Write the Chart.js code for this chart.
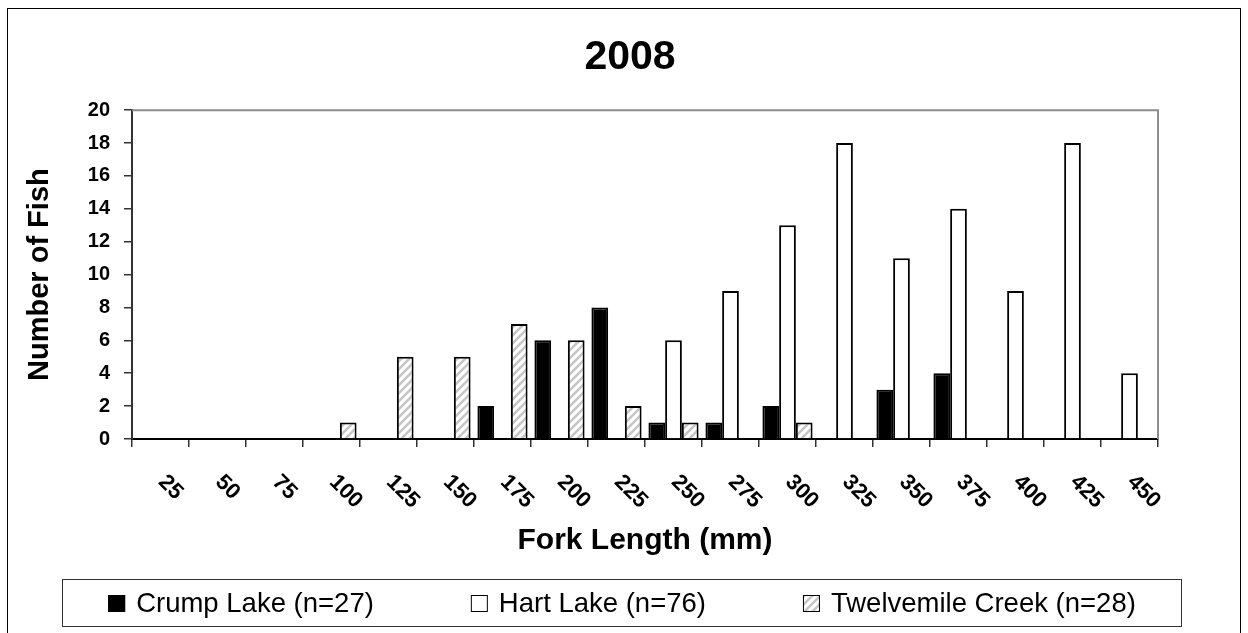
<!DOCTYPE html>
<html>
<head>
<meta charset="utf-8">
<script src="https://cdn.jsdelivr.net/npm/chart.js@4.4.1/dist/chart.umd.min.js"></script>
<style>
html,body{margin:0;padding:0;background:#fff;}
#wrap{width:1248px;height:633px;position:relative;}
</style>
</head>
<body>
<div id="wrap"><canvas id="c" width="1248" height="633"></canvas></div>
<script>
// ---- data ----
const categories = ['25','50','75','100','125','150','175','200','225','250','275','300','325','350','375','400','425','450'];
const crumpLake       = [0,0,0,0,0,0,2,6,8,1,1,2,0,3,4,0,0,0];
const hartLake        = [0,0,0,0,0,0,0,0,0,6,9,13,18,11,14,9,18,4];
const twelvemileCreek = [0,0,0,1,5,5,7,6,2,1,0,1,0,0,0,0,0,0];
const seriesLabels = ['Crump Lake (n=27)','Hart Lake (n=76)','Twelvemile Creek (n=28)'];
const yTicks = [0,2,4,6,8,10,12,14,16,18,20];
const chartTitle = '2008';
const xTitle = 'Fork Length (mm)';
const yTitle = 'Number of Fish';

const FONT = "'Liberation Sans', Arial, sans-serif";
Chart.defaults.font.family = FONT;
Chart.defaults.color = '#000';

const canvas = document.getElementById('c');
const mainCtx = canvas.getContext('2d');

function makeHatch(){
  const s = 8;
  const c = document.createElement('canvas');
  c.width = s; c.height = s;
  const g = c.getContext('2d');
  g.fillStyle = '#ffffff';
  g.fillRect(0,0,s,s);
  g.strokeStyle = '#c6c6c6';
  g.lineWidth = 2.6;
  g.beginPath();
  g.moveTo(-2, s+2); g.lineTo(s+2, -2);
  g.moveTo(-2, 2); g.lineTo(2, -2);
  g.moveTo(s-2, s+2); g.lineTo(s+2, s-2);
  g.stroke();
  return mainCtx.createPattern(c, 'repeat');
}
const hatch = makeHatch();

const framePlugin = {
  id: 'framePlugin',
  afterLayout(chart){
    const t = chart.titleBlock;
    if (t) { t.left = 0; t.right = chart.width + 12; }
  },
  beforeDraw(chart){
    const ctx = chart.ctx;
    ctx.save();
    ctx.fillStyle = '#fff';
    ctx.fillRect(0,0,chart.width,chart.height);
    ctx.strokeStyle = '#000';
    ctx.lineWidth = 1;
    ctx.strokeRect(7.5, 8.5, chart.width - 15, chart.height + 10);
    ctx.restore();
  },
  afterDraw(chart){
    const ctx = chart.ctx, a = chart.chartArea;
    ctx.save();
    ctx.strokeStyle = '#8c8c8c';
    ctx.lineWidth = 2;
    ctx.beginPath();
    ctx.moveTo(a.left, a.top);
    ctx.lineTo(a.right, a.top);
    ctx.lineTo(a.right, a.bottom);
    ctx.stroke();
    ctx.restore();
  }
};

const xLabelPlugin = {
  id: 'xLabelPlugin',
  afterDraw(chart){
    const xs = chart.scales.x, ctx = chart.ctx;
    ctx.save();
    ctx.font = 'bold 22px ' + FONT;
    ctx.fillStyle = '#000';
    ctx.textAlign = 'left';
    ctx.textBaseline = 'alphabetic';
    categories.forEach((lab, i) => {
      const x = xs.getPixelForValue(i);
      ctx.save();
      ctx.translate(x - 3, xs.top + 44);
      ctx.rotate(Math.PI / 4);
      ctx.fillText(lab, 0, 0);
      ctx.restore();
    });
    ctx.restore();
  }
};

const legendPlugin = {
  id: 'legendPlugin',
  afterDraw(chart){
    const ctx = chart.ctx;
    const frame = {left: 62.5, top: 579.5, right: 1181.5, bottom: 626.5};
    ctx.save();
    ctx.strokeStyle = '#333';
    ctx.lineWidth = 1;
    ctx.strokeRect(frame.left, frame.top, frame.right - frame.left, frame.bottom - frame.top);
    ctx.font = '27.5px ' + FONT;
    ctx.textBaseline = 'alphabetic';
    ctx.textAlign = 'left';
    const box = 17, boxGap = 11, itemGap = 97;
    const ds = chart.data.datasets;
    const widths = ds.map(d => ctx.measureText(d.label).width);
    const total = widths.reduce((s,w)=>s+w+box+boxGap,0) + itemGap*(ds.length-1);
    let x = (frame.left + frame.right)/2 - total/2;
    const baseline = 612;
    ds.forEach((d, i) => {
      ctx.fillStyle = d.backgroundColor;
      ctx.fillRect(x, baseline - box, box, box);
      ctx.strokeStyle = '#000';
      ctx.lineWidth = 1;
      ctx.strokeRect(x + 0.5, baseline - box + 0.5, box - 1, box - 1);
      ctx.fillStyle = '#000';
      ctx.fillText(d.label, x + box + boxGap, baseline);
      x += box + boxGap + widths[i] + itemGap;
    });
    ctx.restore();
  }
};

new Chart(canvas, {
  type: 'bar',
  data: {
    labels: categories,
    datasets: [
      {label: seriesLabels[0], data: crumpLake, backgroundColor: '#000000', borderColor: '#000', borderWidth: 2},
      {label: seriesLabels[1], data: hartLake, backgroundColor: '#ffffff', borderColor: '#000', borderWidth: 2},
      {label: seriesLabels[2], data: twelvemileCreek, backgroundColor: hatch, borderColor: '#000', borderWidth: 2}
    ]
  },
  options: {
    responsive: false,
    animation: false,
    layout: {padding: {left: 0, right: 90, top: 0, bottom: 63}},
    datasets: {bar: {categoryPercentage: 0.88, barPercentage: 1.0}},
    plugins: {
      legend: {display: false},
      tooltip: {enabled: false},
      title: {
        display: true, text: chartTitle, color: '#000',
        font: {size: 41, weight: 'bold'},
        padding: {top: 33, bottom: 28}
      }
    },
    scales: {
      x: {
        type: 'category',
        offset: true,
        grid: {display: true, offset: true, drawOnChartArea: false, drawTicks: true, tickLength: 8, color: '#333', lineWidth: 1.5},
        border: {display: true, color: '#000', width: 2},
        ticks: {display: false},
        title: {display: true, text: xTitle, color: '#000', font: {size: 30, weight: 'bold'}, padding: {top: 0, bottom: 11}},
        afterFit(s){ s.height = 131; }
      },
      y: {
        min: 0, max: 20,
        afterBuildTicks(s){ s.ticks = yTicks.map(v => ({value: v})); },
        grid: {drawOnChartArea: false, drawTicks: true, tickLength: 8, color: '#333', lineWidth: 1.5},
        border: {display: true, color: '#333', width: 2},
        ticks: {font: {size: 20, weight: 'bold'}, color: '#000', padding: 14},
        title: {display: true, text: yTitle, color: '#000', font: {size: 29, weight: 'bold'}, padding: {top: 23, bottom: 0}},
        afterFit(s){ s.width = 132; }
      }
    }
  },
  plugins: [framePlugin, xLabelPlugin, legendPlugin]
});
</script>
</body>
</html>
